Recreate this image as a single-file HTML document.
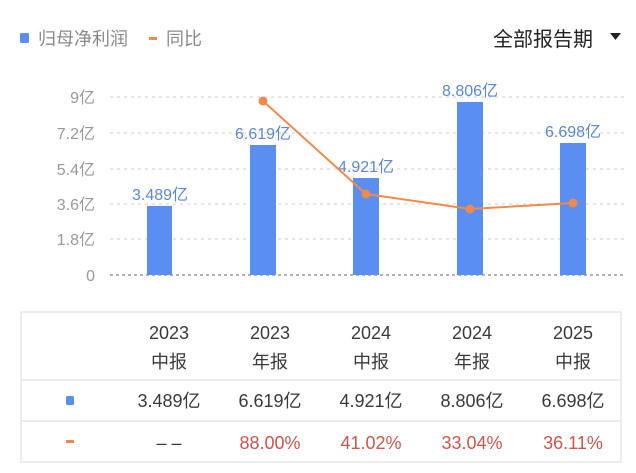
<!DOCTYPE html>
<html><head><meta charset="utf-8"><style>
body{margin:0;width:636px;height:468px;background:#fff;overflow:hidden;font-family:"Liberation Sans","Noto Sans CJK SC",sans-serif;}
</style></head><body>
<svg width="636" height="468" xmlns="http://www.w3.org/2000/svg" font-family="Liberation Sans, Noto Sans CJK SC, sans-serif">
<rect x="20" y="33" width="9" height="10" rx="1.5" fill="#5a8ef0"/>
<text x="38" y="45" font-size="18" fill="#8a8a8a">归母净利润</text>
<rect x="149" y="37" width="8" height="3" fill="#ef8a4c"/>
<text x="166" y="45" font-size="18" fill="#8a8a8a">同比</text>
<text x="493" y="46" font-size="20" fill="#222">全部报告期</text>
<polygon points="610,33 621,33 615.5,40" fill="#222"/>
<g stroke="#d8d8d8" stroke-width="1.2" stroke-dasharray="3,4">
<line x1="110" y1="97" x2="624" y2="97"/><line x1="110" y1="133" x2="624" y2="133"/>
<line x1="110" y1="169" x2="624" y2="169"/><line x1="110" y1="204" x2="624" y2="204"/>
<line x1="110" y1="239" x2="624" y2="239"/>
</g>
<line x1="110" y1="275" x2="624" y2="275" stroke="#999" stroke-width="1.5" stroke-dasharray="3,3"/>
<g font-size="16" fill="#999" text-anchor="end">
<text x="95" y="103">9亿</text><text x="95" y="139">7.2亿</text><text x="95" y="175">5.4亿</text>
<text x="95" y="210">3.6亿</text><text x="95" y="245">1.8亿</text><text x="95" y="281">0</text>
</g>
<g fill="#5a8ef0">
<rect x="147" y="206" width="25" height="69"/>
<rect x="250" y="145" width="26" height="130"/>
<rect x="353" y="178" width="26" height="97"/>
<rect x="457" y="102" width="26" height="173"/>
<rect x="560" y="143" width="26" height="132"/>
</g>
<g font-size="16" fill="#5b87d6" text-anchor="middle">
<text x="160" y="200">3.489亿</text><text x="263" y="139">6.619亿</text>
<text x="366" y="172">4.921亿</text><text x="470" y="96">8.806亿</text><text x="573" y="137">6.698亿</text>
</g>
<polyline points="263,101 366,194 470,209 573,203" fill="none" stroke="#ef8a4c" stroke-width="2"/>
<g fill="#ef8a4c"><circle cx="263" cy="101" r="4.5"/><circle cx="366" cy="194" r="4.5"/><circle cx="470" cy="209" r="4.5"/><circle cx="573" cy="203" r="4.5"/></g>
<rect x="21" y="312" width="600" height="150" fill="none" stroke="#e6e6e6" stroke-width="1.5"/>
<line x1="21" y1="380" x2="621" y2="380" stroke="#e6e6e6" stroke-width="1.5"/>
<line x1="21" y1="421" x2="621" y2="421" stroke="#e6e6e6" stroke-width="1.5"/>
<g font-size="18" fill="#3a3a3a" text-anchor="middle">
<text x="169" y="339">2023</text><text x="270" y="339">2023</text><text x="371" y="339">2024</text><text x="472" y="339">2024</text><text x="573" y="339">2025</text>
<text x="169" y="368">中报</text><text x="270" y="368">年报</text><text x="371" y="368">中报</text><text x="472" y="368">年报</text><text x="573" y="368">中报</text>
<text x="169" y="407">3.489亿</text><text x="270" y="407">6.619亿</text><text x="371" y="407">4.921亿</text><text x="472" y="407">8.806亿</text><text x="573" y="407">6.698亿</text>
<text x="169" y="449">– –</text>
</g>
<g font-size="18" fill="#d0544c" text-anchor="middle">
<text x="270" y="449">88.00%</text><text x="371" y="449">41.02%</text><text x="472" y="449">33.04%</text><text x="573" y="449">36.11%</text>
</g>
<rect x="66" y="396" width="8" height="9" rx="1.5" fill="#5a8ef0"/>
<rect x="66" y="440" width="8" height="3" fill="#ef8a4c"/>
</svg>
</body></html>
